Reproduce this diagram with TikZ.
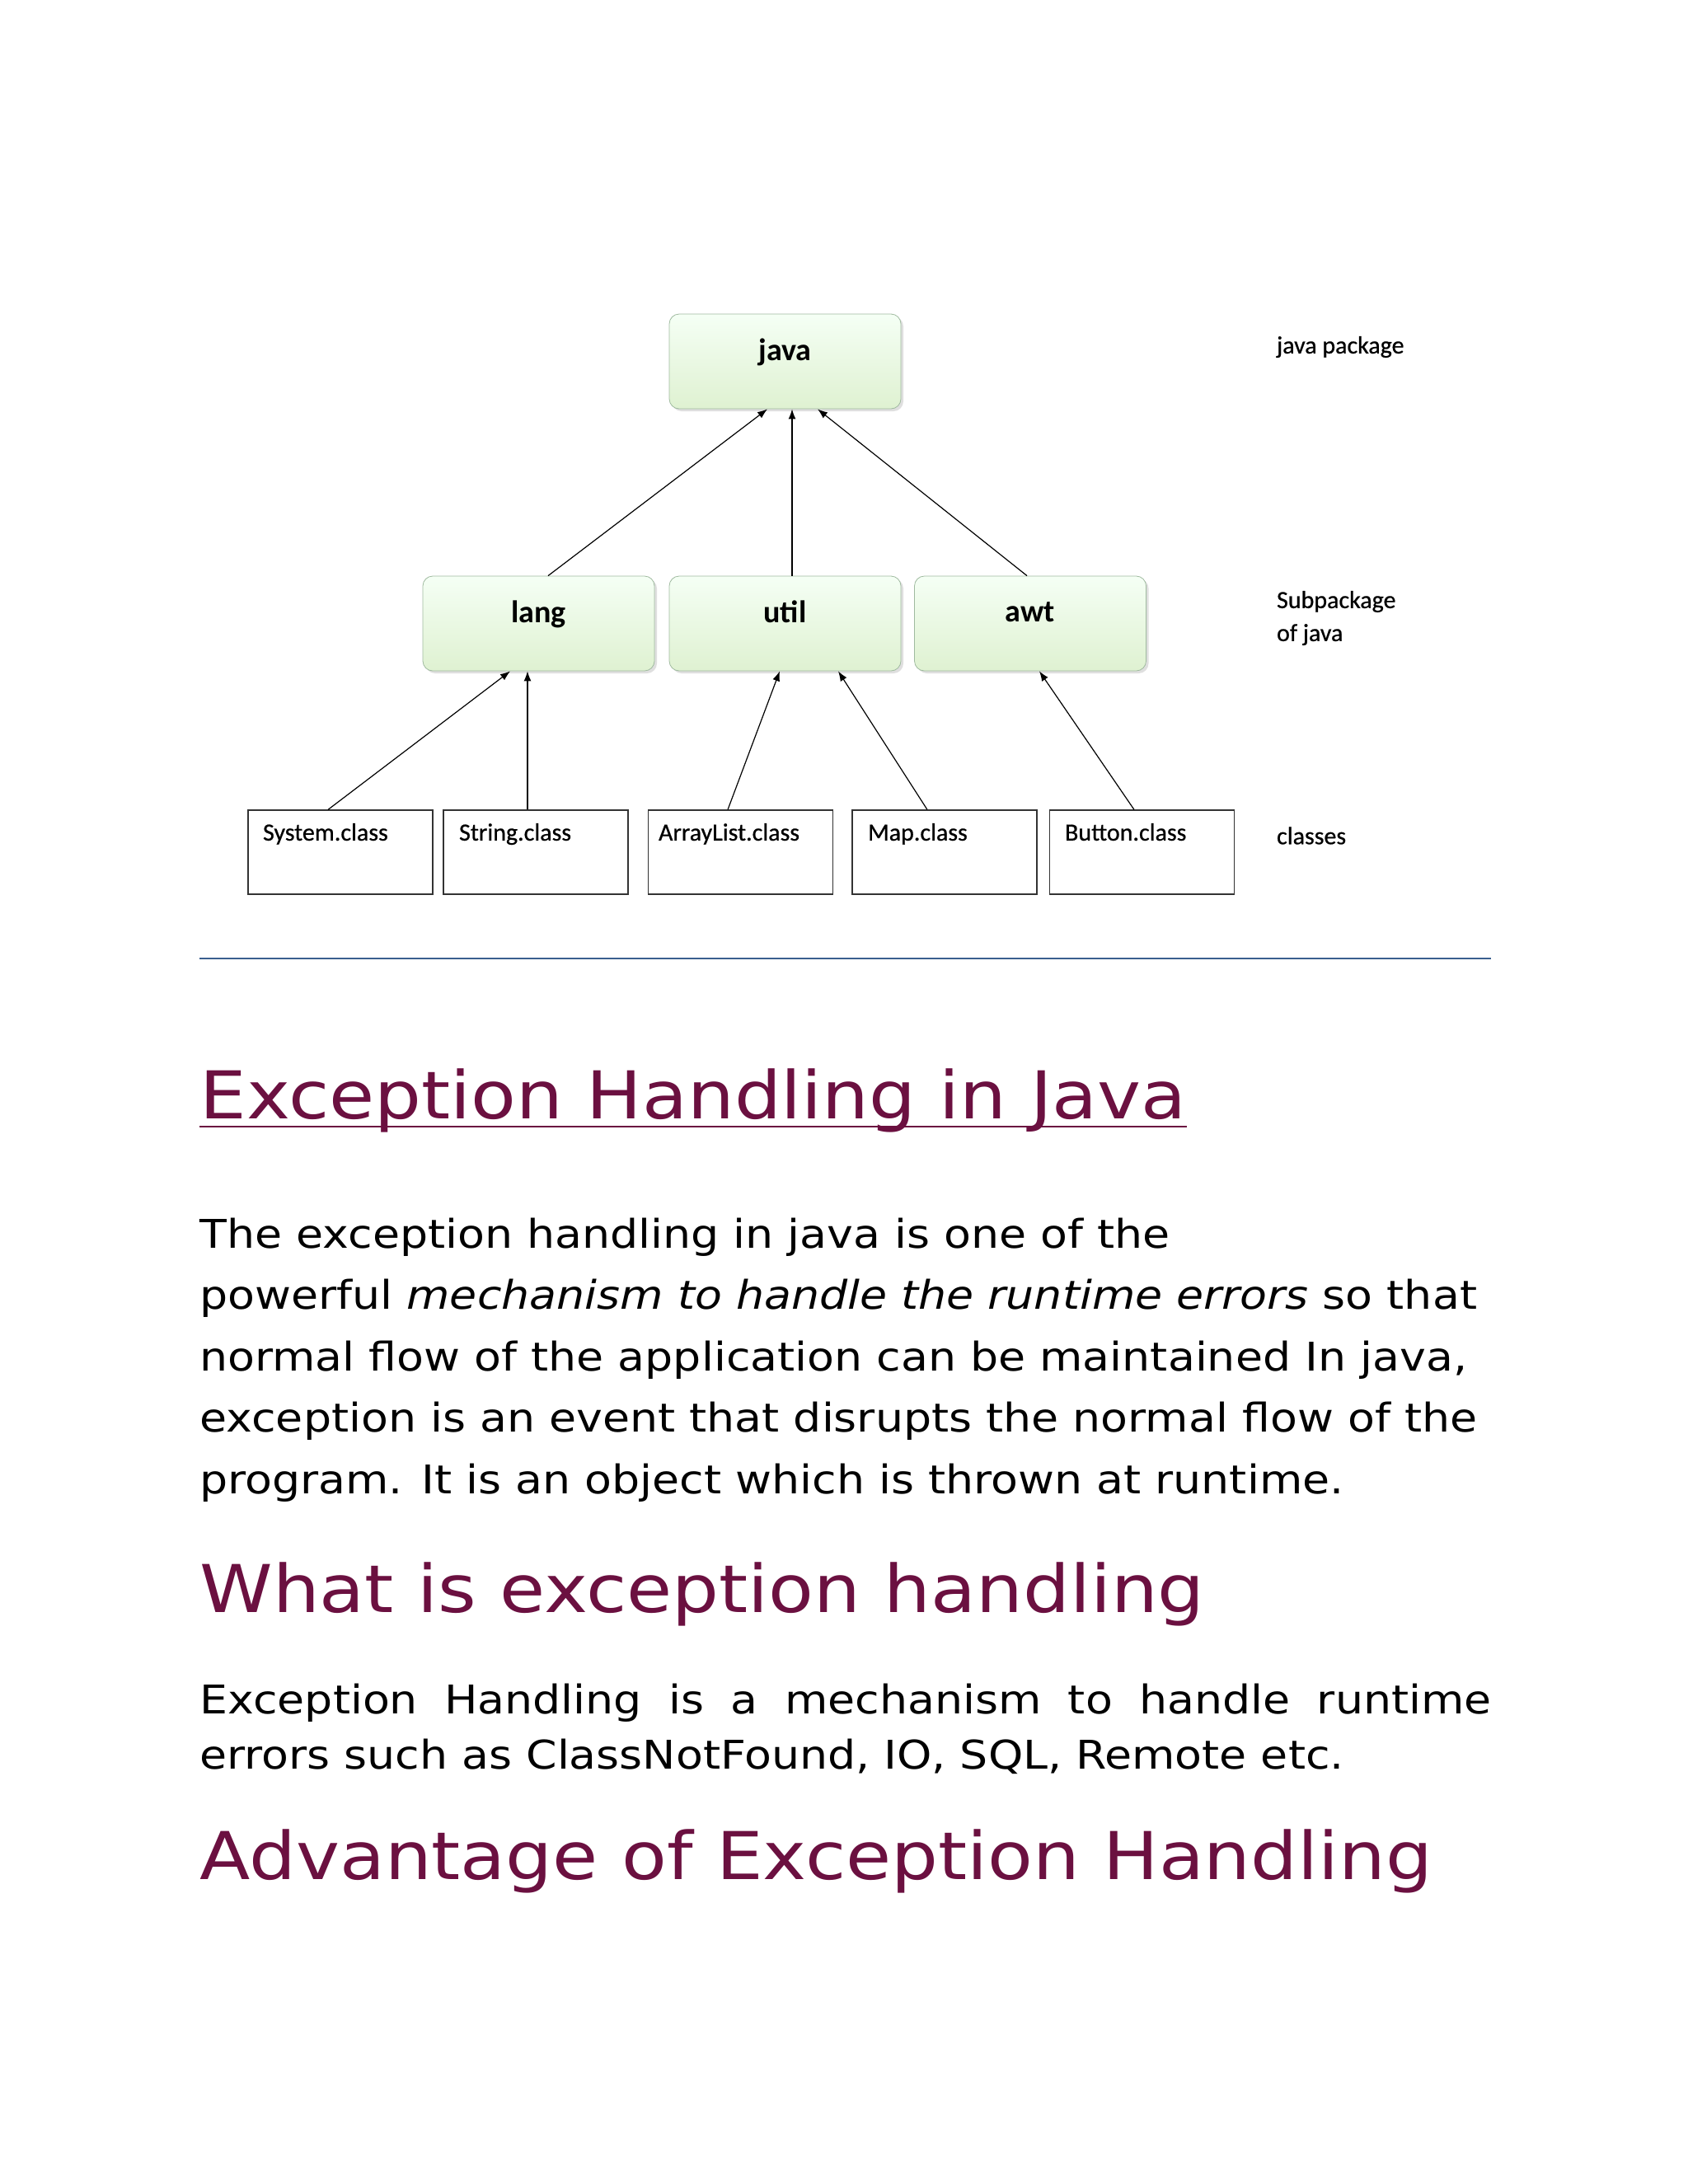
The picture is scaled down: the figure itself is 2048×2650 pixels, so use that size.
\documentclass[tikz,border=0pt]{standalone}
\usepackage{fontspec}
\setmainfont[FakeStretch=1.12]{DejaVu Sans}
\newfontfamily\carl{Carlito}
\newfontfamily\carlb[FakeBold=0.6]{Carlito}
\usetikzlibrary{shadows,arrows.meta}
\definecolor{hd}{HTML}{6B1040}
\definecolor{rl}{HTML}{3A5F8F}
\tikzset{
 pkg/.style={draw=black!30!green!25!gray!60, rounded corners=6pt, top color=green!4!white, bottom color=green!40!olive!18!white, minimum width=140.5pt, minimum height=57.5pt, text depth=0pt, font=\carl\bfseries\fontsize{19}{22}\selectfont, inner sep=0pt, drop shadow={shadow xshift=1.5pt, shadow yshift=-1.5pt, opacity=0.25}},
 cls/.style={draw=black!80, line width=0.6pt, minimum width=112pt, minimum height=51pt, inner sep=0pt},
 clst/.style={font=\carlb\fontsize{15}{16}\selectfont, anchor=north west},
 side/.style={font=\carlb\fontsize{15}{20}\selectfont, anchor=west, align=left},
 arr/.style={-{Latex[length=6pt,width=4.5pt]}, line width=0.6pt},
 body/.style={font=\fontsize{24}{37.25}\selectfont, anchor=west, inner sep=0pt},
 head/.style={font=\fontsize{40}{45}\selectfont, text=hd, anchor=base west, inner sep=0pt}
}
\begin{document}
\begin{tikzpicture}[x=0.5pt,y=-0.5pt]
\useasboundingbox[fill=white] (0,0) rectangle (2048,2650);
\node[pkg] (java) at (952.5,438.5) {\raisebox{14pt}{java}};
\node[pkg] (lang) at (653.5,756.5) {\raisebox{14pt}{lang}};
\node[pkg] (util) at (952.5,756.5) {\raisebox{14pt}{util}};
\node[pkg] (awt) at (1250,756.5) {\raisebox{14pt}{awt}};
\node[cls] (sys) at (413,1034) {};
\node[cls] (str) at (650,1034) {};
\node[cls] (arl) at (898.5,1034) {};
\node[cls] (map) at (1146,1034) {};
\node[cls] (btn) at (1385.5,1034) {};
\node[clst] (t1) at (312,992) {System.class};
\node[clst] (t2) at (550,992) {String.class};
\node[clst] (t3) at (792,992) {ArrayList.class};
\node[clst] (t4) at (1046,992) {Map.class};
\node[clst] (t5) at (1285,992) {Button.class};
\draw[arr] ([xshift=5.75pt]lang.north) -- ([xshift=-10.75pt]java.south);
\draw[arr] ([xshift=4.25pt]util.north) -- ([xshift=4.25pt]java.south);
\draw[arr] ([xshift=-2pt]awt.north) -- ([xshift=19.75pt]java.south);
\draw[arr] ([xshift=-7.5pt]sys.north) -- ([xshift=-17.25pt]lang.south);
\draw[arr] ([xshift=-5pt]str.north) -- ([xshift=-6.75pt]lang.south);
\draw[arr] ([xshift=-7.75pt]arl.north) -- ([xshift=-3.25pt]util.south);
\draw[arr] ([xshift=-10.5pt]map.north) -- ([xshift=32.25pt]util.south);
\draw[arr] ([xshift=-4.75pt]btn.north) -- ([xshift=5.5pt]awt.south);
\node[side] (l1) at (1542,421) {java package};
\node[side] (l2) at (1542,750) {Subpackage\\of java};
\node[side] (l3) at (1542,1014) {classes};
\coordinate (r1) at (242,1163);
\coordinate (r2) at (1809,1163);
\draw[rl, line width=1.2pt] (r1) -- (r2);
\node[head] (h1) at (242,1357) {Exception Handling in Java};
\draw[hd, line width=1.3pt] ([yshift=-5pt]h1.base west) -- ([yshift=-5pt]h1.base east);
\node[body] (p1) at (242,1501) {The exception handling in java is one of the};
\node[body] (p2) at (242,1575.5) {powerful \textit{mechanism to handle the runtime errors} so that};
\node[body] (p3) at (242,1650) {normal flow of the application can be maintained In java,};
\node[body] (p4) at (242,1724.5) {exception is an event that disrupts the normal flow of the};
\node[body] (p5) at (242,1799) {program. It is an object which is thrown at runtime.};
\node[head] (h2) at (242,1956) {What is exception handling};
\node[body] (q1) at (242,2066) {\hbox to 783.5pt{Exception\hfill Handling\hfill is\hfill a\hfill mechanism\hfill to\hfill handle\hfill runtime}};
\node[body] (q2) at (242,2131) {errors such as ClassNotFound, IO, SQL, Remote etc.};
\node[head] (h3) at (242,2280) {Advantage of Exception Handling};
\end{tikzpicture}
\end{document}
